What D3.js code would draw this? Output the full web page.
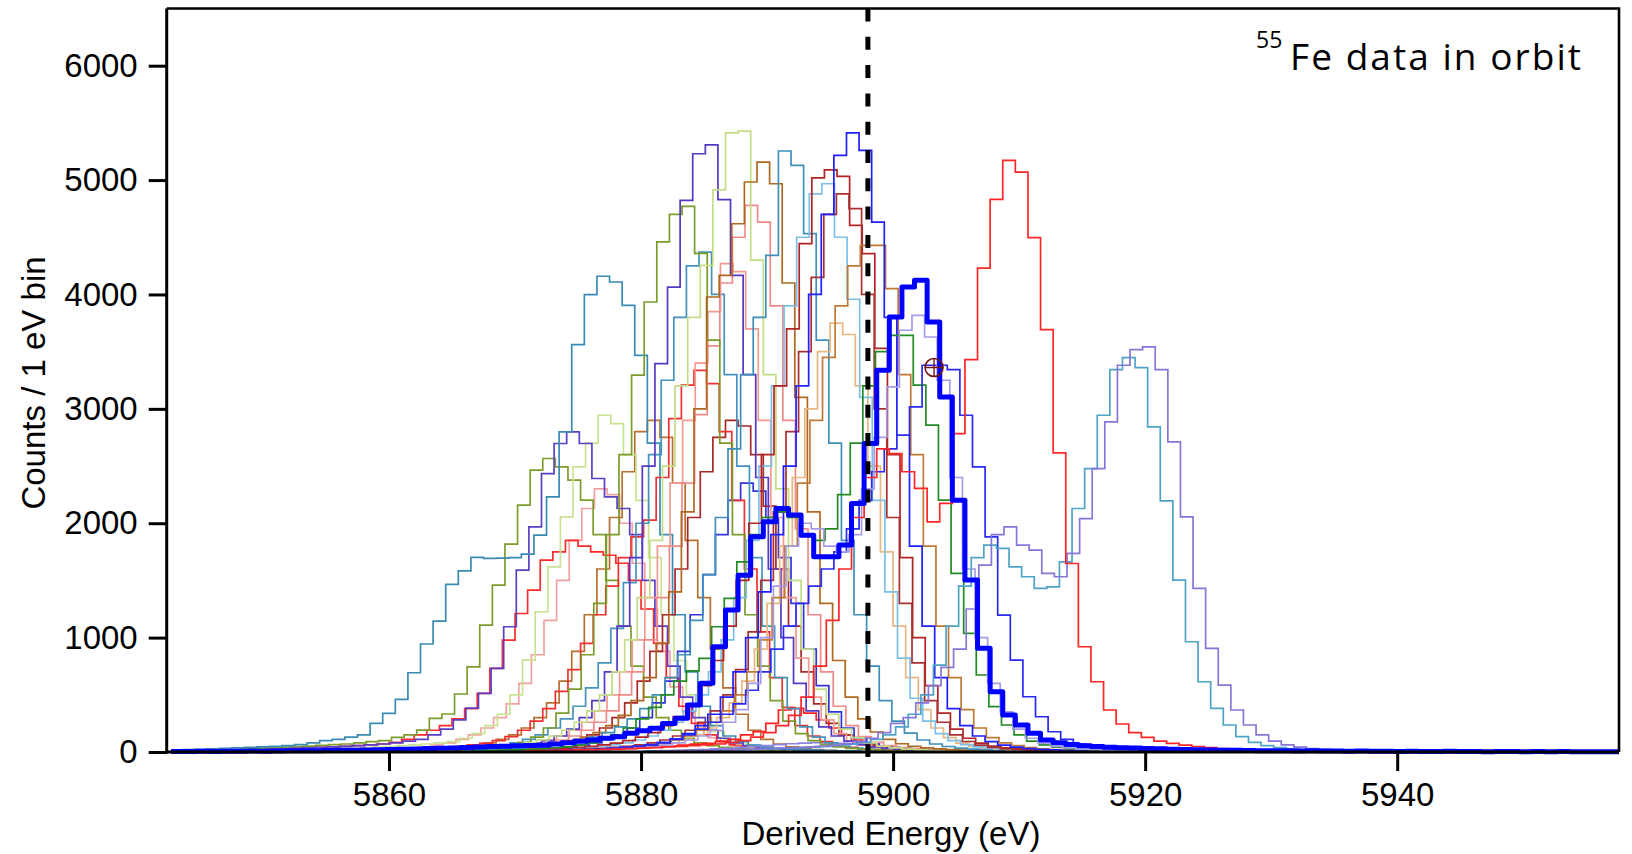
<!DOCTYPE html>
<html><head><meta charset="utf-8">
<script src="https://cdn.jsdelivr.net/npm/d3@7/dist/d3.min.js"></script>
<style>body{margin:0;background:#fff}svg{display:block}</style>
</head><body><svg id="chart" width="1632" height="854"></svg>
<script>
// ---------------- data (counts per 1 eV bin; start = left edge of first bin, eV) ----------------
const xTicks = [5860, 5880, 5900, 5920, 5940];
const yTicks = [0, 1000, 2000, 3000, 4000, 5000, 6000];
const xDomain = [5842.36, 5957.6];
const yDomain = [0, 6500];
const refEnergy = 5898.0;
const markerPoint = [5903.25, 3361];

const thickBlueStart = 5842.7;
const thickBlueCounts = [5,4,6,5,7,6,8,7,9,10,11,12,13,15,16,18,20,22,25,27,30,33,36,40,43,47,50,54,57,60,
 70,80,95,105,120,134,163,185,207,250,294,411,600,920,1241,1546,1881,2012,2129,2071,
 1896,1706,1706,1809,2173,2697,3337,3803,4065,4124,3760,3104,2202,1503,906,527,323,236,163,105,
 80,65,55,48,42,38,34,30,28,25,22,20,18,16,15,14,12,11,10,9,10,8,9,7,8,6,7,5,6,5,
 4,6,4,5,3,4,5,3,4,3,4,3,2,3,3];

const redHighStart = 5870.7;
const redHighCounts = [10,12,14,16,18,20,23,26,30,34,38,44,50,56,63,
 70,85,100,130,170,230,320,480,750,1150,1600,2050,2400,2650,2609,2450,2304,2012,2173,2784,
 3431,4231,4831,5172,5070,4497,3693,2615,1648,920,614,367,245,169,128,95,75,60,48,38,
 30,25,20,17,14,12,10,9,8,7,6,6,5,5,4,4,4,3,3,3,3,3,2,2,2,2,2,2,2,2,2,2];

const teal5919Start = 5880.2;
const teal5919Counts = [8,9,10,12,13,15,17,19,22,26,30,34,38,43,50,58,68,85,110,150,
 220,330,500,760,1100,1450,1700,1809,1780,1619,1532,1430,1444,1663,2129,2478,2944,3343,3448,3361,
 2842,2196,1503,964,614,382,236,134,85,55,38,28,22,18,15,12,10,9,8,7,
 6,6,5,5,5,4,4,4,4,3,3,3,3,3,3,3,3,3];

const lav5920Start = 5880.8;
const lav5920Counts = [8,10,12,14,16,18,20,23,26,30,34,38,43,50,58,70,90,120,170,250,
 300,430,580,740,900,1250,1634,1900,1968,1809,1765,1561,1532,1736,2041,2478,2886,3381,3518,3541,
 3343,2711,2056,1430,906,585,367,236,149,95,62,42,30,24,19,15,12,10,9,8,
 7,6,6,5,5,5,4,4,4,4,3,3,3,3,3,3,3];

const blueTallStart = 5870.3;
const blueTallCounts = [10,12,14,17,20,24,28,34,42,52,65,85,115,160,230,330,480,700,1000,1400,
 1900,2500,3200,4000,4700,5216,5413,5259,4633,3800,2769,1800,1100,650,380,230,140,90,60,42,
 30,23,18,14,12,10,9,8,7,6];

const purpleTallStart = 5866.1;
const purpleTallCounts = [24,28,34,42,55,75,100,140,200,300,450,700,1100,1700,2500,3395,4065,4823,5230,5308,
 4829,4167,3300,2400,1600,1000,600,360,220,140,95,65,45,32,24,18,14,11,9,8];

const lightGreenTallStart = 5862.7;
const lightGreenTallCounts = [15,18,22,27,33,40,50,62,80,105,140,190,260,360,500,700,980,1350,1850,2500,
 3200,3800,4255,4915,5413,5428,4300,3300,2300,1500,900,550,330,200,125,80,52,36,26,19,14,11,9];

const tealTallStart = 5865.9;
const tealTallCounts = [15,18,22,27,33,40,50,62,78,100,130,170,220,290,380,500,650,850,1150,1550,
 2050,2650,3300,3800,4342,5254,5129,4531,3600,2700,1850,1200,750,450,270,165,105,70,48,34,25,19,15,12,10];

const brownTallStart = 5865.2;
const brownTallCounts = [15,18,22,27,33,40,50,62,78,100,130,170,230,320,450,650,950,1400,2100,3000,
 3978,4167,4618,4983,5157,4968,4100,3100,2100,1300,800,480,290,175,110,72,50,36,27,21,16,13,11,9];

const darkRedTallStart = 5868.55;
const darkRedTallCounts = [12,15,18,22,27,33,40,50,62,78,100,130,170,230,310,420,580,800,1100,1500,
 2000,2600,3200,3700,4444,5020,5090,5032,4604,4357,3529,2600,1700,1000,580,340,200,120,78,52,37,27,21,16,13,11,9];

const oliveTallStart = 5862.25;
const oliveTallCounts = [11,13,16,20,25,32,42,58,85,130,210,340,550,850,1300,1900,2600,3294,3934,4459,
 4700,4770,4360,3600,2700,1900,1200,750,450,270,160,100,65,45,32,24,18,14,11,9];

const tealAStart = 5843.5;
const tealACounts = [20,24,28,32,36,40,45,50,55,65,80,99,110,130,149,
 251,338,460,693,944,1145,1465,1584,1701,1692,1695,1700,1730,1896,2231,2799,3562,3999,4159,4109,
 3905,3468,2700,1900,1200,700,400,230,140,90,60,42,32,25,20,16,13,11,9];

const purple2800Start = 5850.1;
const purple2800Counts = [25,28,32,36,40,45,50,56,62,70,80,95,110,150,200,280,384,513,731,1095,
 1590,1968,2434,2697,2799,2697,2391,2231,2129,1900,1500,1100,750,480,300,190,120,80,55,40,30,23,18,14,11,9];

const olive2566Start = 5848.2;
const olive2566Counts = [30,34,38,42,47,52,58,64,70,80,90,100,128,150,192,294,332,507,745,1109,
 1459,1817,2158,2464,2566,2493,2376,2202,1900,1500,1100,750,480,300,190,120,80,55,40,30,23,18,14,11,9];

const redLeftStart = 5850.0;
const redLeftCounts = [25,28,32,36,40,45,50,56,62,70,85,110,150,190,230,290,380,513,731,978,
 1211,1415,1677,1750,1850,1800,1750,1720,1650,1500,1250,950,650,400,250,150,95,62,42,30,22,17,13,10,8];

const lightGreen2Start = 5852.6;
const lightGreen2Counts = [20,23,26,30,34,38,43,48,55,62,70,80,90,120,160,230,330,500,804,1226,
 1619,2056,2493,2700,2944,2871,2600,2200,1700,1200,800,500,300,180,110,70,45,30,22,16,12,9];

const redMidStart = 5859.2;
const redMidCounts = [15,18,22,27,33,40,50,62,75,100,135,190,270,380,530,720,950,1200,1450,1700,
 1881,2027,2400,2915,3207,3337,3221,2800,2200,1600,1050,650,390,230,140,90,58,40,28,20,15,11];

const pink1Start = 5864.25;
const pink1Counts = [15,18,22,27,33,40,50,62,80,105,140,190,260,360,500,700,980,1350,1800,2350,
 2950,3550,4100,4500,4779,4633,3900,2900,1950,1200,700,400,230,135,85,55,38,27,20,15,11,9];

const pink2Start = 5863.3;
const pink2Counts = [15,18,22,27,33,40,50,62,80,105,140,190,260,360,500,700,980,1350,1800,2350,
 2900,3400,3850,4270,4200,3700,2900,2050,1350,820,480,280,160,95,60,40,28,20,15,11,9];

const lightBlueStart = 5870.35;
const lightBlueCounts = [15,18,22,27,33,40,50,62,80,105,140,190,260,360,500,700,980,1350,1850,2500,
 3200,3900,4500,4880,4968,4500,3958,3100,2200,1400,820,470,270,160,100,65,45,32,24,18,14,11,9];

const brown3Start = 5873.4;
const brown3Counts = [15,18,22,27,33,40,50,62,80,105,140,190,260,360,500,700,980,1350,1800,2350,
 2900,3450,3900,4250,4430,4430,4051,3300,2600,1800,1100,650,370,210,125,80,55,38,28,21,16,12,9];

const darkRed2Start = 5872.5;
const darkRed2Counts = [15,18,22,27,33,40,50,62,80,105,140,190,260,360,500,720,1050,1500,2100,2800,
 3500,4150,4700,4880,4750,4000,3000,2050,1300,780,450,260,150,92,60,40,28,20,15,11,9];

const greenStart = 5866.6;
const greenCounts = [10,12,15,18,22,28,35,45,60,80,110,150,210,290,390,500,620,710,818,1095,
 1343,1663,1900,2050,2100,2050,1900,1850,1950,2250,2700,3200,3500,3643,3643,3207,2857,2202,1561,1037,
 673,396,236,150,95,62,42,30,22,17,13,10];

const lav2Start = 5873.5;
const lav2Counts = [10,12,15,18,22,28,35,45,60,80,105,140,190,260,370,600,1000,1450,1800,2000,
 1950,1800,1750,1900,2300,2750,3192,3687,3818,3628,3250,2400,1600,1000,600,350,200,120,75,50,35,26,20,15,12,10];

const blue2Start = 5872.3;
const blue2Counts = [10,12,15,18,22,28,35,45,60,80,110,150,200,260,330,420,540,700,900,1100,
 1300,1450,1600,1750,1950,2200,2450,2650,2769,3017,3381,3381,3343,2944,2493,1881,1197,804,483,308,
 177,110,70,45,30,22,16,12,10];

const tanStart = 5873.0;
const tanCounts = [10,12,15,18,22,28,35,45,60,80,110,150,210,300,430,620,900,1300,1800,2400,
 3000,3500,3750,3650,3200,2500,1750,1100,650,370,210,125,78,50,34,24,17,13,10];

const teal3Start = 5860.6;
const teal3Counts = [10,12,15,18,22,28,35,45,60,80,110,150,210,290,400,560,780,1080,1480,2000,
 2600,3250,3800,4250,4371,4000,3300,2500,1700,1100,650,380,220,130,80,52,35,25,18,13,10];

const darkRed3Start = 5864.7;
const darkRed3Counts = [10,12,15,18,22,28,35,45,60,80,110,150,210,300,430,620,880,1200,1600,2050,
 2450,2750,2900,2850,2600,2150,1600,1100,700,420,250,150,92,60,40,28,20,15,11,9];

const blue3Start = 5866.9;
const blue3Counts = [10,12,15,18,22,28,35,45,60,80,110,150,210,300,430,620,880,1200,1550,1900,
 2200,2350,2280,2050,1700,1300,900,580,350,210,125,80,52,36,26,19,14,11,9];

const redSmallStart = 5870.9;
const redSmallCounts = [10,12,14,16,19,22,26,30,35,40,45,52,60,68,76,90,110,150,178,251,
 367,382,340,280,210,150,105,72,50,36,26,19,14,11,9];

const lavTinyStart = 5880.5;
const lavTinyCounts = [10,12,15,18,22,27,33,40,48,56,64,72,78,82,80,75,68,60,50,42,34,27,21,16,12,9];

const pink3Start = 5855.3;
const pink3Counts = [10,12,15,18,22,28,35,45,60,80,110,150,210,300,420,600,850,1150,1500,1850,
 2129,2300,2250,2000,1650,1250,880,570,350,210,125,78,50,34,24,17,13,10];

const brown4Start = 5858.5;
const brown4Counts = [10,12,15,18,22,28,35,45,60,80,110,150,210,300,430,620,880,1200,1600,2050,
 2450,2800,2900,2750,2350,1850,1350,900,560,330,190,110,68,44,30,21,15,11,9];

// ---------------- drawing ----------------
const W = 1632, H = 854;
const plot = {left: 166.7, right: 1619, top: 8.5, bottom: 752};
const svg = d3.select('#chart');
svg.append('rect').attr('width', W).attr('height', H).attr('fill', '#fff');

const x = d3.scaleLinear().domain(xDomain).range([plot.left, plot.right]);
const y = d3.scaleLinear().domain(yDomain).range([plot.bottom, plot.top]);

const series = [
  {start: pink3Start, counts: pink3Counts, color: '#f3a0a0'},
  {start: brown4Start, counts: brown4Counts, color: '#b87030'},
  {start: redLeftStart, counts: redLeftCounts, color: '#ff2a2a'},
  {start: olive2566Start, counts: olive2566Counts, color: '#7e9c2e'},
  {start: lightGreen2Start, counts: lightGreen2Counts, color: '#c9e292'},
  {start: purple2800Start, counts: purple2800Counts, color: '#5b40c6'},
  {start: tealAStart, counts: tealACounts, color: '#3a8bb4'},
  {start: redSmallStart, counts: redSmallCounts, color: '#ff2020'},
  {start: lavTinyStart, counts: lavTinyCounts, color: '#8c84e0'},
  {start: blue3Start, counts: blue3Counts, color: '#3333dd'},
  {start: darkRed3Start, counts: darkRed3Counts, color: '#a82828'},
  {start: redMidStart, counts: redMidCounts, color: '#f03030'},
  {start: teal3Start, counts: teal3Counts, color: '#4592bd'},
  {start: pink2Start, counts: pink2Counts, color: '#f29a90'},
  {start: pink1Start, counts: pink1Counts, color: '#f08a8a'},
  {start: oliveTallStart, counts: oliveTallCounts, color: '#7b9b2b'},
  {start: purpleTallStart, counts: purpleTallCounts, color: '#5438c4'},
  {start: lightGreenTallStart, counts: lightGreenTallCounts, color: '#c3dd86'},
  {start: brownTallStart, counts: brownTallCounts, color: '#b06820'},
  {start: tealTallStart, counts: tealTallCounts, color: '#3e8fba'},
  {start: tanStart, counts: tanCounts, color: '#e8b883'},
  {start: lightBlueStart, counts: lightBlueCounts, color: '#7cc0e8'},
  {start: darkRedTallStart, counts: darkRedTallCounts, color: '#b22424'},
  {start: darkRed2Start, counts: darkRed2Counts, color: '#a83030'},
  {start: brown3Start, counts: brown3Counts, color: '#c07a35'},
  {start: blueTallStart, counts: blueTallCounts, color: '#1f1fff'},
  {start: greenStart, counts: greenCounts, color: '#228b22'},
  {start: blue2Start, counts: blue2Counts, color: '#2a2af5'},
  {start: lav2Start, counts: lav2Counts, color: '#a79be6'},
  {start: teal5919Start, counts: teal5919Counts, color: '#4fa3c7'},
  {start: lav5920Start, counts: lav5920Counts, color: '#8676d8'},
  {start: redHighStart, counts: redHighCounts, color: '#ff2626'},
  {start: thickBlueStart, counts: thickBlueCounts, color: '#0000ff', thick: true}
];

svg.append('clipPath').attr('id', 'plotclip').append('rect')
  .attr('x', plot.left).attr('y', plot.top - 2)
  .attr('width', plot.right - plot.left).attr('height', plot.bottom - plot.top + 6);

const stepLine = d3.line().x(d => x(d[0])).y(d => y(d[1])).curve(d3.curveStepAfter);
const gSeries = svg.append('g').attr('clip-path', 'url(#plotclip)');
series.forEach(s => {
  const pts = s.counts.map((c, i) => [s.start + i, c]);
  pts.push([s.start + s.counts.length, s.counts[s.counts.length - 1]]);
  gSeries.append('path').attr('d', stepLine(pts))
    .attr('fill', 'none').attr('stroke', s.color)
    .attr('stroke-width', s.thick ? 5 : 1.7)
    .attr('stroke-linejoin', s.thick ? 'round' : 'miter');
});

// frame (top & right)
svg.append('path')
  .attr('d', `M${plot.left},${plot.top}H${plot.right}V${plot.bottom}`)
  .attr('fill', 'none').attr('stroke', '#000').attr('stroke-width', 2.6);

const font = '"Liberation Sans", Arial, Helvetica, sans-serif';

const yAxis = d3.axisLeft(y).tickValues(yTicks).tickSize(18).tickSizeOuter(0).tickPadding(11).tickFormat(d3.format('d'));
const gy = svg.append('g').attr('transform', `translate(${plot.left},0)`).call(yAxis);
const xAxis = d3.axisBottom(x).tickValues(xTicks).tickSize(19).tickSizeOuter(0).tickPadding(12).tickFormat(d3.format('d'));
const gx = svg.append('g').attr('transform', `translate(0,${plot.bottom})`).call(xAxis);
[gx, gy].forEach(g => {
  g.select('.domain').attr('stroke', '#000').attr('stroke-width', 3);
  g.selectAll('.tick line').attr('stroke', '#000').attr('stroke-width', 3);
  g.selectAll('.tick text').attr('fill', '#000').style('font-family', font).style('font-size', '33px');
});
gy.select('.domain').attr('d', `M0,${plot.top}V${plot.bottom + 1.5}`);
gx.select('.domain').attr('d', `M${plot.left - 1.5},0H${plot.right}`);

// reference dashed line
svg.append('line')
  .attr('x1', x(refEnergy)).attr('x2', x(refEnergy))
  .attr('y1', plot.top).attr('y2', plot.bottom + 5)
  .attr('stroke', '#000').attr('stroke-width', 5).attr('stroke-dasharray', '13,15.3');

// marker
const mg = svg.append('g').attr('transform', `translate(${x(markerPoint[0])},${y(markerPoint[1])})`);
mg.append('circle').attr('r', 9).attr('fill', 'none').attr('stroke', '#701414').attr('stroke-width', 1.6);
mg.append('path').attr('d', 'M-9,0H9M0,-9V9').attr('stroke', '#701414').attr('stroke-width', 1.4);

// axis titles
svg.append('text').attr('x', 891).attr('y', 845).attr('text-anchor', 'middle')
  .style('font-family', font).style('font-size', '33px').attr('fill', '#000')
  .text('Derived Energy (eV)');
svg.append('text').attr('transform', 'translate(45,383) rotate(-90)').attr('text-anchor', 'middle')
  .style('font-family', font).style('font-size', '33px').attr('fill', '#000')
  .text('Counts / 1 eV bin');

// annotation
const annFont = '"Open Sans", "Noto Sans", sans-serif';
svg.append('text').attr('x', 1256).attr('y', 47.5)
  .style('font-family', annFont).style('font-size', '23px').attr('fill', '#000').text('55');
svg.append('text').attr('x', 1290).attr('y', 69.6)
  .style('font-family', annFont).style('font-size', '37px').attr('fill', '#000')
  .attr('textLength', 291).attr('lengthAdjust', 'spacing')
  .text('Fe data in orbit');
</script>
</body></html>
